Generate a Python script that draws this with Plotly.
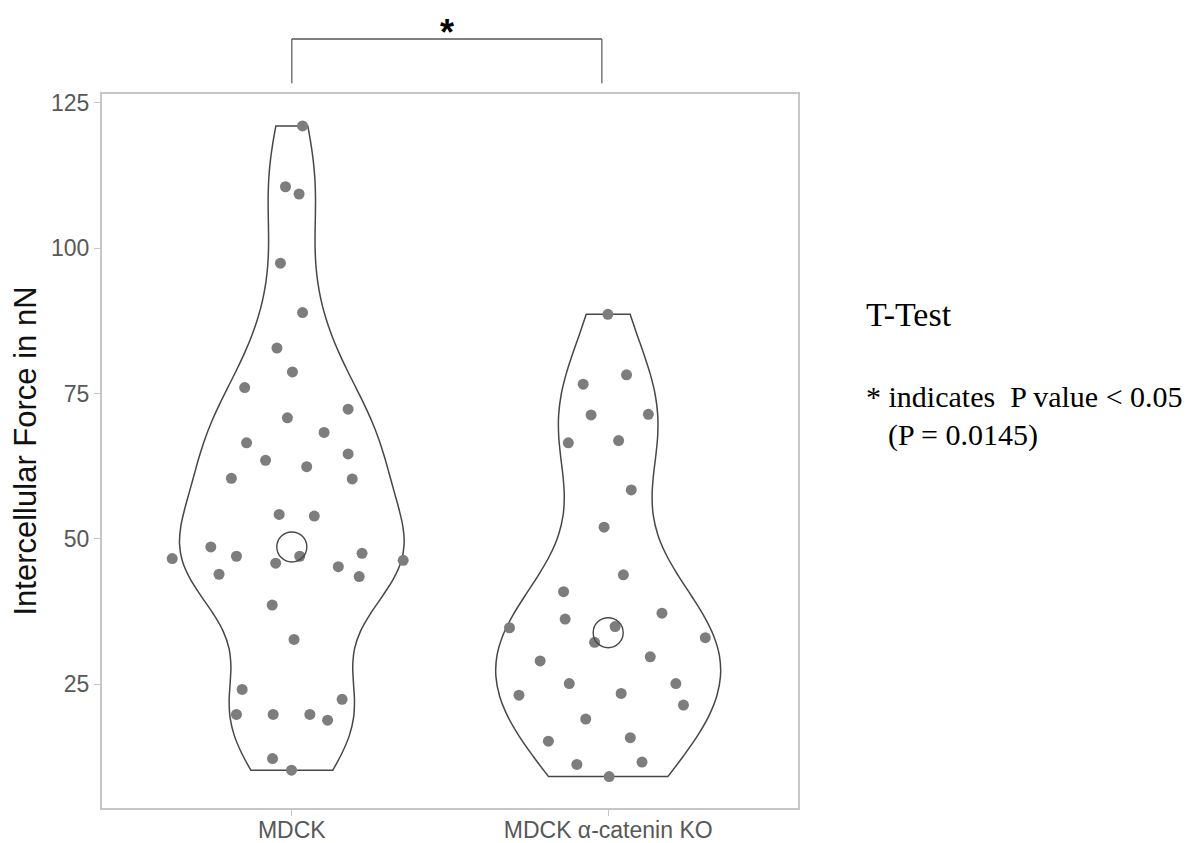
import numpy as np
import plotly.graph_objects as go

# ---------------- data ----------------
categories = ["MDCK", "MDCK α-catenin KO"]
cat_pos = [1, 2]

mdck_force = [121.0, 110.55, 109.3, 97.4, 88.9, 82.8, 78.7, 76.0, 72.3, 70.8,
              68.3, 66.5, 64.6, 63.5, 62.4, 60.4, 60.3, 54.2, 53.9, 48.6,
              46.6, 47.0, 45.8, 47.0, 43.9, 45.2, 47.5, 43.5, 46.3, 38.6,
              32.7, 24.1, 19.8, 19.8, 19.8, 18.8, 22.4, 12.2, 10.2]
mdck_jitter = [0.034, -0.020, 0.023, -0.036, 0.034, -0.047, 0.002, -0.149, 0.178, -0.014,
               0.102, -0.143, 0.178, -0.083, 0.047, -0.191, 0.191, -0.040, 0.071, -0.256,
               -0.378, -0.175, -0.051, 0.025, -0.230, 0.147, 0.222, 0.213, 0.352, -0.062,
               0.007, -0.157, -0.175, -0.059, 0.057, 0.113, 0.159, -0.061, -0.001]

ko_force = [88.6, 78.2, 76.6, 71.3, 71.4, 66.5, 66.9, 58.4, 52.0, 43.8,
            40.9, 36.2, 37.2, 34.7, 34.9, 32.2, 33.0, 29.0, 29.7, 25.1,
            23.4, 25.1, 23.1, 21.4, 19.0, 15.2, 15.8, 11.2, 11.6, 9.1]
ko_jitter = [-0.001, 0.058, -0.079, -0.054, 0.127, -0.126, 0.033, 0.073, -0.013, 0.048,
             -0.141, -0.136, 0.170, -0.312, 0.022, -0.043, 0.307, -0.215, 0.133, -0.123,
             0.041, 0.214, -0.282, 0.238, -0.071, -0.189, 0.070, -0.099, 0.107, 0.003]

y_ticks = [25, 50, 75, 100, 125]
bracket_x = [1, 1.98]
sig_label = "*"
test_title = "T-Test"
test_line1 = "* indicates  P value < 0.05"
test_line2 = "(P = 0.0145)"

groups = [mdck_force, ko_force]
jitters = [mdck_jitter, ko_jitter]

# ---------------- style ----------------
OUTLINE = "#474747"
POINT = "rgb(125,125,125)"
SANS = "Liberation Sans, Arial, sans-serif"
SERIF = "Liberation Serif, Times New Roman, serif"


def bw_nrd0(v):
    v = np.asarray(v, float)
    sd = v.std(ddof=1)
    iqr = np.subtract(*np.percentile(v, [75, 25]))
    lo = min(sd, iqr / 1.34)
    return 0.9 * lo * len(v) ** (-0.2)


fig = go.Figure()

for pos, vals in zip(cat_pos, groups):
    fig.add_trace(go.Violin(
        x=[pos] * len(vals), y=vals,
        spanmode="hard", bandwidth=bw_nrd0(vals),
        scalemode="width", width=0.71,
        points=False, box_visible=False, meanline_visible=False,
        line=dict(color=OUTLINE, width=1.5),
        fillcolor="rgba(0,0,0,0)", showlegend=False, hoverinfo="skip",
    ))

for pos, vals, jit in zip(cat_pos, groups, jitters):
    fig.add_trace(go.Scatter(
        x=[pos + j for j in jit], y=vals, mode="markers",
        marker=dict(size=11, color=POINT, line=dict(width=0)),
        showlegend=False, hoverinfo="skip",
    ))

fig.add_trace(go.Scatter(
    x=cat_pos, y=[float(np.median(v)) for v in groups], mode="markers",
    marker=dict(size=30, symbol="circle-open", color=OUTLINE, line=dict(width=1.4)),
    showlegend=False, hoverinfo="skip",
))

# significance bracket
fig.add_shape(type="line", xref="x", yref="paper", x0=bracket_x[0], x1=bracket_x[1],
              y0=1.077, y1=1.077, line=dict(color="black", width=1.2))
for bx in bracket_x:
    fig.add_shape(type="line", xref="x", yref="paper", x0=bx, x1=bx,
                  y0=1.077, y1=1.015, line=dict(color="#555555", width=1.2))

fig.add_annotation(x=sum(bracket_x) / 2, y=1.1176, xref="x", yref="paper",
                   text="<b>" + sig_label + "</b>", showarrow=False,
                   xanchor="center", yanchor="top",
                   font=dict(family=SANS, size=36, color="black"))

fig.add_annotation(x=1.0944, y=0.6905, xref="paper", yref="paper", text=test_title,
                   showarrow=False, xanchor="left", yanchor="middle",
                   font=dict(family=SERIF, size=34, color="black"))
fig.add_annotation(x=1.0944, y=0.576, xref="paper", yref="paper", text=test_line1,
                   showarrow=False, xanchor="left", yanchor="middle",
                   font=dict(family=SERIF, size=30, color="black"))
fig.add_annotation(x=1.1260, y=0.5224, xref="paper", yref="paper", text=test_line2,
                   showarrow=False, xanchor="left", yanchor="middle",
                   font=dict(family=SERIF, size=30, color="black"))

fig.update_layout(
    width=1183, height=835,
    margin=dict(l=94, r=393, t=86, b=35),
    plot_bgcolor="white", paper_bgcolor="white",
    violinmode="overlay",
    xaxis=dict(range=[0.4, 2.6], tickvals=cat_pos, ticktext=categories,
               automargin=False, showgrid=False, zeroline=False,
               showline=True, mirror=True, linecolor="#c6c6c6", linewidth=2,
               ticks="outside", ticklen=6, tickcolor="#c6c6c6", tickwidth=1,
               ticklabelstandoff=-6,
               tickfont=dict(family=SANS, size=23, color="#585858")),
    yaxis=dict(range=[3.7, 126.5], tickvals=y_ticks,
               automargin=False, showgrid=False, zeroline=False,
               showline=True, mirror=True, linecolor="#c6c6c6", linewidth=2,
               ticks="outside", ticklen=6, tickcolor="#c6c6c6", tickwidth=1,
               tickfont=dict(family=SANS, size=23, color="#585858"),
               title=dict(text="Intercellular Force in nN", standoff=12,
                          font=dict(family=SANS, size=31, color="#111111"))),
)

fig.write_html("out.html")
